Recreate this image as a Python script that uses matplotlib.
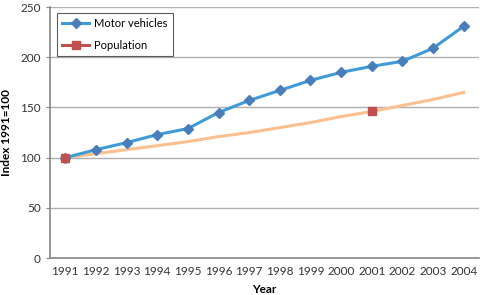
import matplotlib.pyplot as plt
import numpy as np

years = list(range(1991, 2005))
motor_vehicles = [100, 108, 115, 123, 129, 145, 157, 167, 177, 185, 191, 196, 209, 231]
population = [100, np.nan, np.nan, np.nan, np.nan, np.nan, np.nan, np.nan, np.nan, np.nan, 147, np.nan, np.nan, np.nan]
population_trend = [100, 104, 108, 112, 116, 121, 125, 130, 135, 141, 146, 152, 158, 165]

plt.rcParams['font.family'] = ['Lato', 'DejaVu Sans']

fig = plt.figure(figsize=(4.8, 2.95), dpi=100)
ax = fig.add_axes([0.104, 0.125, 0.894, 0.851])

ax.plot(years, population_trend, color='#fac090', lw=2.2, zorder=2)
ax.plot(years, motor_vehicles, color='#3e9bd8', lw=2.2, marker='D', ms=5,
        mfc='#4a7ebb', mec='#4a7ebb', label='Motor vehicles', zorder=3)
ax.plot(years, population, color='#c0504d', lw=2.2, marker='s', ms=6,
        mfc='#c0504d', mec='#c0504d', label='Population', zorder=4)

ax.set_xlim(1990.5, 2004.5)
ax.set_ylim(0, 250)
ax.set_yticks(range(0, 251, 50))
ax.set_xticks(years)
ax.tick_params(axis='both', labelsize=8.5, colors='#333333', length=3, color='#868686')
ax.tick_params(axis='x', length=0, pad=6)
ax.grid(axis='y', color='#b0b0b0', lw=1)
ax.set_axisbelow(True)
for s in ['top', 'right']:
    ax.spines[s].set_visible(False)
for s in ['left', 'bottom']:
    ax.spines[s].set_color('#868686')
    ax.spines[s].set_linewidth(1.2)

ax.set_xlabel('Year', fontsize=8.5, fontweight='bold', labelpad=5)
ax.set_ylabel('Index 1991=100', fontsize=8.5, fontweight='bold', labelpad=6)

leg = ax.legend(loc='upper left', bbox_to_anchor=(0.004, 1.0), fontsize=8,
                frameon=True, fancybox=False, edgecolor='#333333',
                handlelength=2.4, borderpad=0.45, labelspacing=1.05, handletextpad=0.5)
leg.get_frame().set_linewidth(0.8)

fig.savefig('out.png', dpi=100)
